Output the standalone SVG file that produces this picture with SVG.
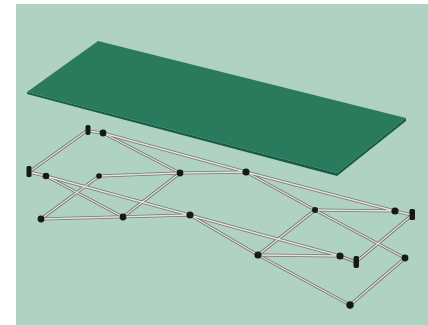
<svg xmlns="http://www.w3.org/2000/svg" width="428" height="325" viewBox="0 0 428 325">
  <defs>
    <style>
      .tube-o { stroke: #76766f; stroke-width: 3; stroke-linecap: round; fill: none; }
      .tube-i { stroke: #e4e3de; stroke-width: 1.3; stroke-linecap: round; fill: none; }
      .joint { fill: #141a17; }
    </style>
    <g id="tubes">
      <line x1="88" y1="130" x2="29" y2="172"/>
      <line x1="88" y1="131" x2="103" y2="133"/>
      <line x1="29" y1="172" x2="46" y2="176"/>
      <line x1="103" y1="133" x2="180" y2="173"/>
      <line x1="103" y1="133" x2="246" y2="172"/>
      <line x1="46" y1="176" x2="123" y2="217"/>
      <line x1="46" y1="176" x2="340" y2="256"/>
      <line x1="99" y1="176" x2="180" y2="173"/>
      <line x1="99" y1="176" x2="41" y2="219"/>
      <line x1="41" y1="219" x2="190" y2="215"/>
      <line x1="123" y1="217" x2="180" y2="173"/>
      <line x1="180" y1="173" x2="246" y2="172"/>
      <line x1="246" y1="172" x2="395" y2="211"/>
      <line x1="246" y1="172" x2="315" y2="210"/>
      <line x1="315" y1="210" x2="395" y2="211"/>
      <line x1="395" y1="211" x2="412" y2="215"/>
      <line x1="315" y1="210" x2="258" y2="255"/>
      <line x1="315" y1="210" x2="405" y2="258"/>
      <line x1="412" y1="215" x2="356" y2="262"/>
      <line x1="190" y1="215" x2="258" y2="255"/>
      <line x1="258" y1="255" x2="340" y2="256"/>
      <line x1="340" y1="256" x2="356" y2="262"/>
      <line x1="258" y1="255" x2="350" y2="305"/>
      <line x1="350" y1="305" x2="405" y2="258"/>
    </g>
  </defs>

  <!-- backdrop -->
  <rect x="0" y="0" width="428" height="325" fill="#ffffff"/>
  <rect x="16" y="4" width="412" height="321" fill="#b0d2c2"/>

  <!-- deck plate with its thin edge -->
  <g id="plate">
    <polygon points="27,92 337,173 406,118 406,121 337,176 27,94" fill="#1b5a44"/>
    <polygon points="27,92 98,41 406,118 337,173" fill="#2a7a5d"/>
  </g>

  <!-- frame members -->
  <g id="connectors">
    <use href="#tubes" class="tube-o"/>
    <use href="#tubes" class="tube-i"/>
  </g>

  <!-- joints -->
  <g id="joint-A"><rect class="joint" x="85.5" y="125" width="5" height="10" rx="2"/></g>
  <g id="joint-B"><circle class="joint" cx="103" cy="133" r="3.4"/></g>
  <g id="joint-C"><rect class="joint" x="26.5" y="166" width="5" height="11" rx="1.5"/></g>
  <g id="joint-D"><circle class="joint" cx="46" cy="176" r="3.3"/></g>
  <g id="joint-E"><circle class="joint" cx="99" cy="176" r="2.8"/></g>
  <g id="joint-F"><circle class="joint" cx="180" cy="173" r="3.4"/></g>
  <g id="joint-G"><circle class="joint" cx="41" cy="219" r="3.4"/></g>
  <g id="joint-H"><circle class="joint" cx="123" cy="217" r="3.4"/></g>
  <g id="joint-I"><circle class="joint" cx="190" cy="215" r="3.6"/></g>
  <g id="joint-J"><circle class="joint" cx="246" cy="172" r="3.6"/></g>
  <g id="joint-K"><circle class="joint" cx="315" cy="210" r="3"/></g>
  <g id="joint-L"><circle class="joint" cx="395" cy="211" r="3.6"/></g>
  <g id="joint-M"><rect class="joint" x="409.5" y="209" width="5.5" height="11" rx="1.5"/></g>
  <g id="joint-N"><circle class="joint" cx="258" cy="255" r="3.6"/></g>
  <g id="joint-O"><circle class="joint" cx="340" cy="256" r="3.6"/></g>
  <g id="joint-P"><rect class="joint" x="353.5" y="256" width="5.5" height="12" rx="2"/></g>
  <g id="joint-Q"><circle class="joint" cx="405" cy="258" r="3.4"/></g>
  <g id="joint-R"><circle class="joint" cx="350" cy="305" r="3.7"/></g>
</svg>
